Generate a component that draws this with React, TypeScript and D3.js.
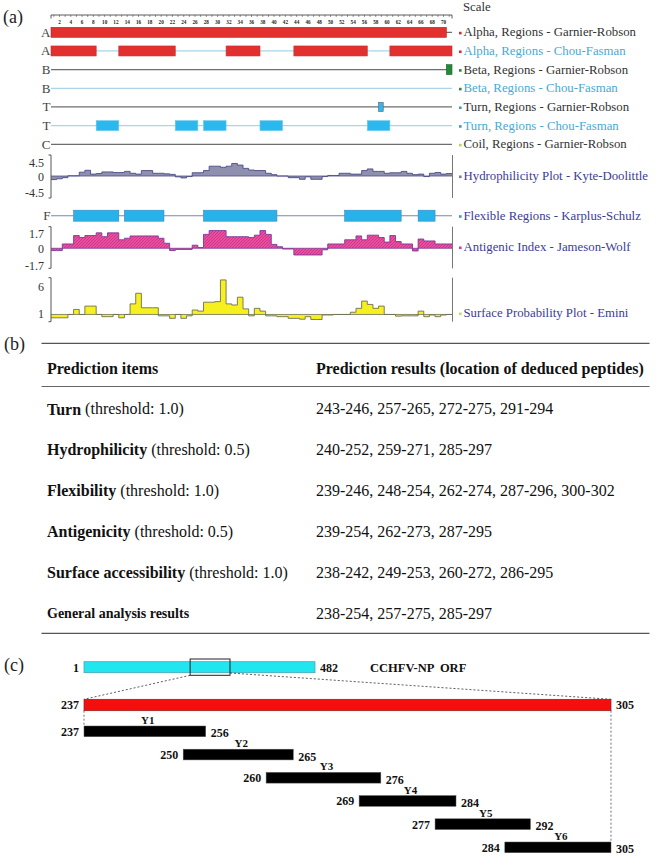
import React from 'react';
import * as d3 from 'd3';

const FONT = "'Liberation Serif','Times New Roman',serif";

// ---------- (a) data ----------
const scaleTicks = d3.range(1, 72);
const scaleLabels = d3.range(2, 71, 2);

const trackLetters = ['A', 'A', 'B', 'B', 'T', 'T', 'C'];
const trackNames = [
  'Alpha, Regions - Garnier-Robson',
  'Alpha, Regions - Chou-Fasman',
  'Beta, Regions - Garnier-Robson',
  'Beta, Regions - Chou-Fasman',
  'Turn, Regions - Garnier-Robson',
  'Turn, Regions - Chou-Fasman',
  'Coil, Regions - Garnier-Robson',
];
const alphaGR = [[1, 70]];
const alphaCF = [[1, 8], [13, 22], [32, 37], [44, 56], [61, 71]];
const betaGR = [[71, 71]];
const betaCF: number[][] = [];
const turnGR = [[59, 59]];
const turnCF = [[9, 12], [23, 26], [28, 31], [38, 41], [57, 60]];
const coilGR: number[][] = [];
const flexibleRegions = [[5, 12], [14, 20], [28, 40], [53, 62], [66, 68]];

const hydroValues = [
  -1.3, -1.0, -0.6, 0.1, 0.1, 1.4, 2.1, 0.7, 0.9, 1.5,
  1.5, 1.3, 1.3, 1.7, 1.0, 0.7, 2.0, 2.0, 1.0, 1.0,
  0.8, 0.6, -0.3, -0.7, -0.2, 1.2, 1.2, 2.0, 3.6, 3.6,
  3.2, 3.6, 4.6, 4.0, 2.8, 2.2, 2.0, 2.0, 1.0, 0.5,
  0.0, 0.0, -0.6, -0.6, -1.2, -0.3, -1.2, -1.2, -0.2, 0.2,
  0.2, 1.0, 1.0, 0.7, 0.7, 2.0, 2.6, 1.7, 1.7, 1.0,
  1.2, 1.2, 1.7, 1.0, 0.5, 0.7, -0.2, 1.0, 1.3, 0.7, 0.9,
];
const antigenicValues = [
  -0.3, -0.3, 0.56, 0.56, 1.65, 1.4, 1.65, 1.65, 2.0, 1.5,
  2.0, 2.0, 1.1, 1.3, 1.6, 1.6, 1.6, 1.6, 1.6, 1.3,
  0.65, -0.3, -0.15, -0.15, -0.15, 0.4, 0.1, 1.8, 2.3, 2.3,
  2.3, 1.5, 1.5, 1.5, 1.5, 1.4, 1.7, 2.3, 1.8, 0.5,
  0.2, -0.1, -0.1, -0.87, -0.87, -0.87, -0.87, -0.87, -0.2, 0.56,
  0.56, 0.56, 1.1, 1.1, 1.6, 1.1, 1.7, 1.7, 1.4, 0.8,
  1.65, 0.87, 0.56, 0.56, -0.35, 1.2, 0.95, 0.95, 0.56, 0.56, 0.56,
];
const surfaceValues = [
  0.4, 0.4, 0.4, 1.0, 1.9, 1.0, 2.5, 2.5, 1.0, 0.6,
  0.6, 1.0, 0.4, 1.0, 2.9, 4.8, 2.2, 2.2, 2.2, 0.75,
  0.75, 0.3, 1.0, 0.3, 0.75, 1.8, 1.6, 3.2, 3.2, 3.3,
  7.2, 2.9, 2.7, 4.1, 2.0, 0.75, 2.1, 1.6, 0.75, 0.75,
  0.6, 0.6, 0.3, 0.3, 0.15, 0.6, 0.1, 0.1, 0.9, 0.9,
  1.0, 1.0, 1.0, 1.4, 2.1, 3.4, 2.8, 2.1, 2.5, 1.0,
  1.0, 0.7, 0.75, 0.75, 0.75, 1.6, 0.6, 0.9, 0.6, 0.9, 1.0,
];
const hydroTicks = [4.5, 0, -4.5];
const antigenicTicks = [1.7, 0, -1.7];
const surfaceTicks = [6, 1];

// ---------- (b) data ----------
const tableHeaders = ['Prediction items', 'Prediction results (location of deduced peptides)'];
const itemNames = ['Turn', 'Hydrophilicity', 'Flexibility', 'Antigenicity', 'Surface accessibility'];
const itemThresholds = ['(threshold: 1.0)', '(threshold: 0.5)', '(threshold: 1.0)', '(threshold: 0.5)', '(threshold: 1.0)'];
const itemResults = [
  '243-246, 257-265, 272-275, 291-294',
  '240-252, 259-271, 285-297',
  '239-246, 248-254, 262-274, 287-296, 300-302',
  '239-254, 262-273, 287-295',
  '238-242, 249-253, 260-272, 286-295',
];
const generalLabel = 'General analysis results';
const generalResult = '238-254, 257-275, 285-297';

// ---------- (c) data ----------
const orfRange = [1, 482];
const orfName = 'CCHFV-NP  ORF';
const zoomBox = [222, 305]; // box as drawn on the ORF bar
const regionRange = [237, 305];
const peptideNames = ['Y1', 'Y2', 'Y3', 'Y4', 'Y5', 'Y6'];
const peptideStarts = [237, 250, 260, 269, 277, 284];
const peptideEnds = [256, 265, 276, 284, 292, 305];
// schematic placement of each peptide bar along the 237-305 bar
const peptideDrawnStart = [237, 249.8, 260.5, 272.5, 282.3, 291.3];
const peptideDrawnEnd = [252.7, 264.0, 275.3, 285.0, 294.6, 305];

function stepPts(vals: number[]) {
  const pts = vals.map((v, i) => ({ x: i + 0.5, v }));
  pts.push({ x: vals.length + 0.5, v: vals[vals.length - 1] });
  return pts;
}

export default function App() {
  const x = d3.scaleLinear().domain([0.5, 71.5]).range([51, 452]);
  const rowY = d3.scaleLinear().domain([0, 6]).range([32.3, 144.3]);
  const flexY = 215.7;
  const legendFont = 12.8;

  const trackRegions = [alphaGR, alphaCF, betaGR, betaCF, turnGR, turnCF, coilGR];
  const trackLine = ['#6e6e6e', '#a8d6e8', '#6e6e6e', '#a8d6e8', '#6e6e6e', '#a8d6e8', '#6e6e6e'];
  const trackFill = ['#e2302f', '#e2302f', '#23883a', '#2ab6ec', '#3ab4e8', '#2ab8ee', '#cccc44'];
  const trackStroke = ['#b02424', '#c23232', '#1c6a2c', '#2ab6ec', '#3a6a88', '#6ccaf0', '#999'];
  const trackText = ['#333', '#47a9d4', '#333', '#47a9d4', '#333', '#47a9d4', '#333'];
  const trackMarker = ['#d03030', '#d03030', '#2a8a3a', '#2a8a3a', '#3a9ad0', '#3a9ad0', '#c8d050'];

  const plots = [
    {
      vals: hydroValues, base: 0, y: d3.scaleLinear().domain([-8.05, 7.7]).range([198, 155]),
      ticks: hydroTicks, nudge: [-1, 0.5, 5], fill: '#8f8fb0', stroke: '#4c4c88',
      label: 'Hydrophilicity Plot - Kyte-Doolittle', marker: '#7a7aa0',
    },
    {
      vals: antigenicValues, base: 0, y: d3.scaleLinear().domain([-2.6, 2.8]).range([268.3, 226.7]),
      ticks: antigenicTicks, nudge: [-1, 0.5, 4.3], fill: '#e2489e', stroke: '#7a3a9a',
      label: 'Antigenic Index - Jameson-Wolf', marker: '#d04090',
    },
    {
      vals: surfaceValues, base: 1, y: d3.scaleLinear().domain([-0.3, 7.6]).range([321.7, 277.7]),
      ticks: surfaceTicks, nudge: [0, 0], fill: '#f6f01e', stroke: '#6f6f55',
      label: 'Surface Probability Plot - Emini', marker: '#d8d070',
    },
  ];
  const plotLabelY = [176, 247, 313];
  const legendColor = '#3c3c96';

  // (c) scales
  const orfX = d3.scaleLinear().domain(orfRange).range([84, 315]);
  const regX = d3.scaleLinear().domain(regionRange).range([84, 611]);
  const pepY = d3.scaleLinear().domain([0, 5]).range([726, 842]);
  const pepH = 10.7;

  // (b) layout
  const rowYs = d3.scaleLinear().domain([0, 5]).range([408.5, 613]);
  const colX = [47, 316];

  return (
    <svg width={664} height={868} style={{ position: 'absolute', left: 0, top: 0, background: '#fff' }}
      fontFamily={FONT}>
      <defs>
        <pattern id="hatch" width="3" height="3" patternUnits="userSpaceOnUse">
          <rect width="3" height="3" fill="#e8509f" />
          <path d="M0,3 L3,0" stroke="#c8287e" strokeWidth="0.7" />
        </pattern>
      </defs>
      <rect width={664} height={868} fill="#fff" />

      {/* ---------------- (a) ---------------- */}
      <text x={3} y={23} fontSize={18} fill="#222">(a)</text>
      <text x={463} y={11} fontSize={legendFont} fill="#333">Scale</text>
      {/* scale axis */}
      <line x1={x(0.5)} x2={x(71.5)} y1={15} y2={15} stroke="#333" strokeWidth={0.8} />
      <line x1={x(0.5)} x2={x(0.5)} y1={15} y2={18.5} stroke="#333" strokeWidth={0.8} />
      <line x1={x(71.5)} x2={x(71.5)} y1={15} y2={18.5} stroke="#333" strokeWidth={0.8} />
      {scaleTicks.map(t => (
        <line key={t} x1={x(t)} x2={x(t)} y1={15} y2={17} stroke="#333" strokeWidth={0.5} />
      ))}
      {scaleLabels.map(t => (
        <text key={t} x={x(t)} y={23.5} fontSize={5.2} fontWeight="bold" textAnchor="middle" fill="#222">{t}</text>
      ))}

      {/* tracks */}
      {trackRegions.map((regs, k) => {
        const cy = rowY(k);
        const h = k === 4 ? 9 : 10;
        return (
          <g key={k}>
            <line x1={x(0.5)} x2={x(71.5)} y1={cy} y2={cy} stroke={trackLine[k]} strokeWidth={1.3} />
            {regs.map((r, j) => (
              <rect key={j} x={x(r[0] - 0.5)} y={cy - h / 2} width={x(r[1] + 0.5) - x(r[0] - 0.5) - (k === 4 ? 1 : 0)}
                height={h} fill={trackFill[k]} stroke={trackStroke[k]} strokeWidth={0.6} />
            ))}
            <text x={50.5} y={cy} fontSize={13} textAnchor="end" dominantBaseline="central" fill="#444">{trackLetters[k]}</text>
            <rect x={459} y={cy - 0.5} width={2.6} height={2.6} fill={trackMarker[k]} />
            <text x={463.5} y={cy} fontSize={legendFont} dominantBaseline="central" fill={trackText[k]}>{trackNames[k]}</text>
          </g>
        );
      })}

      {/* flexible regions */}
      <line x1={x(0.5)} x2={x(71.5)} y1={flexY} y2={flexY} stroke="#7c86aa" strokeWidth={1.1} />
      {flexibleRegions.map((r, j) => (
        <rect key={j} x={x(r[0] - 0.5)} y={flexY - 5.5} width={x(r[1] + 0.5) - x(r[0] - 0.5)} height={11}
          fill="#27b3ea" stroke="#3a88c0" strokeWidth={0.6} />
      ))}
      <text x={50.5} y={flexY} fontSize={13} textAnchor="end" dominantBaseline="central" fill="#444">F</text>
      <rect x={459} y={flexY - 0.5} width={2.6} height={2.6} fill="#3a9ad8" />
      <text x={463.5} y={flexY} fontSize={legendFont} dominantBaseline="central" fill={legendColor}>Flexible Regions - Karplus-Schulz</text>

      {/* plots */}
      {plots.map((p, k) => {
        const pts = stepPts(p.vals);
        const area = d3.area<{ x: number; v: number }>()
          .x(d => x(d.x)).y0(p.y(p.base)).y1(d => p.y(d.v)).curve(d3.curveStepAfter);
        const line = d3.line<{ x: number; v: number }>()
          .x(d => x(d.x)).y(d => p.y(d.v)).curve(d3.curveStepAfter);
        const [d0, d1] = p.y.domain();
        const top = p.y(d1), bot = p.y(d0);
        return (
          <g key={k}>
            <path d={area(pts) || ''} fill={k === 1 ? 'url(#hatch)' : p.fill} />
            <line x1={x(0.5)} x2={x(71.5)} y1={p.y(p.base)} y2={p.y(p.base)} stroke={p.stroke} strokeWidth={0.8} />
            <path d={line(pts) || ''} fill="none" stroke={p.stroke} strokeWidth={0.9} />
            <path d={`M48.5,${top}H${x(0.5)}V${bot}H48.5`} fill="none" stroke="#555" strokeWidth={1} />
            <line x1={452.5} x2={452.5} y1={top} y2={bot} stroke="#777" strokeWidth={1} />
            {p.ticks.map((t, j) => (
              <text key={j} x={44} y={p.y(t) + p.nudge[j]} fontSize={12} textAnchor="end" dominantBaseline="central" fill="#333">{t}</text>
            ))}
            <rect x={459} y={plotLabelY[k] - 0.5} width={2.6} height={2.6} fill={p.marker} />
            <text x={463.5} y={plotLabelY[k]} fontSize={legendFont} dominantBaseline="central" fill={legendColor}>{p.label}</text>
          </g>
        );
      })}

      {/* ---------------- (b) ---------------- */}
      <text x={4} y={344} fontSize={18} fill="#222" dominantBaseline="central">(b)</text>
      <line x1={41.5} x2={649.5} y1={343.3} y2={343.3} stroke="#555" strokeWidth={1.3} />
      <line x1={41.5} x2={649.5} y1={386.5} y2={386.5} stroke="#666" strokeWidth={1.1} />
      <line x1={41.5} x2={649.5} y1={633.3} y2={633.3} stroke="#555" strokeWidth={1.3} />
      <text x={colX[0]} y={368} fontSize={16} fontWeight="bold" dominantBaseline="central" fill="#111">{tableHeaders[0]}</text>
      <text x={colX[1]} y={368} fontSize={16} fontWeight="bold" dominantBaseline="central" fill="#111">{tableHeaders[1]}</text>
      {itemNames.map((n, i) => (
        <g key={n}>
          <text x={colX[0]} y={rowYs(i)} fontSize={16} dominantBaseline="central" fill="#111">
            <tspan fontWeight="bold">{n}</tspan> {itemThresholds[i]}
          </text>
          <text x={colX[1]} y={rowYs(i)} fontSize={16} dominantBaseline="central" fill="#111">{itemResults[i]}</text>
        </g>
      ))}
      <text x={colX[0]} y={rowYs(5)} fontSize={14} fontWeight="bold" dominantBaseline="central" fill="#111">{generalLabel}</text>
      <text x={colX[1]} y={rowYs(5)} fontSize={16} dominantBaseline="central" fill="#111">{generalResult}</text>

      {/* ---------------- (c) ---------------- */}
      <text x={4} y={665} fontSize={18} fill="#222" dominantBaseline="central">(c)</text>
      <rect x={orfX(orfRange[0])} y={661.7} width={orfX(orfRange[1]) - orfX(orfRange[0])} height={11}
        fill="#22e6ef" stroke="#4a9aa8" strokeWidth={0.7} />
      <rect x={orfX(zoomBox[0])} y={659} width={orfX(zoomBox[1]) - orfX(zoomBox[0])} height={16.3}
        fill="none" stroke="#222" strokeWidth={1} />
      <text x={orfX(orfRange[0]) - 5} y={667.5} fontSize={12} fontWeight="bold" textAnchor="end" dominantBaseline="central" fill="#111">{orfRange[0]}</text>
      <text x={orfX(orfRange[1]) + 5} y={667.5} fontSize={12} fontWeight="bold" dominantBaseline="central" fill="#111">{orfRange[1]}</text>
      <text x={370} y={667.5} fontSize={12.5} fontWeight="bold" dominantBaseline="central" fill="#111" style={{ whiteSpace: 'pre' }}>{orfName}</text>

      <line x1={orfX(zoomBox[0])} y1={675.3} x2={regX(regionRange[0])} y2={699.3} stroke="#333" strokeWidth={0.8} strokeDasharray="2,2" />
      <line x1={orfX(zoomBox[1])} y1={673} x2={regX(regionRange[1])} y2={699.3} stroke="#333" strokeWidth={0.8} strokeDasharray="2,2" />

      <rect x={regX(regionRange[0])} y={699.3} width={regX(regionRange[1]) - regX(regionRange[0])} height={11.4}
        fill="#f50e0e" stroke="#8a2020" strokeWidth={0.7} />
      <text x={regX(regionRange[0]) - 5} y={705} fontSize={12} fontWeight="bold" textAnchor="end" dominantBaseline="central" fill="#111">{regionRange[0]}</text>
      <text x={regX(regionRange[1]) + 5} y={705} fontSize={12} fontWeight="bold" dominantBaseline="central" fill="#111">{regionRange[1]}</text>

      <line x1={regX(regionRange[0])} x2={regX(regionRange[0])} y1={710.7} y2={pepY(0)} stroke="#333" strokeWidth={0.7} strokeDasharray="2,2" />
      <line x1={regX(regionRange[1])} x2={regX(regionRange[1])} y1={710.7} y2={pepY(5)} stroke="#333" strokeWidth={0.7} strokeDasharray="2,2" />

      {peptideNames.map((n, i) => {
        const x0 = regX(peptideDrawnStart[i]);
        const x1 = regX(peptideDrawnEnd[i]);
        const ty = pepY(i);
        return (
          <g key={n}>
            <rect x={x0} y={ty} width={x1 - x0} height={pepH} fill="#000" stroke="#555" strokeWidth={0.5} />
            <text x={(x0 + x1) / 2 + 3} y={ty - 6} fontSize={11} fontWeight="bold" textAnchor="middle" dominantBaseline="central" fill="#111">{n}</text>
            <text x={x0 - 5} y={ty + pepH / 2 + 0.5} fontSize={12} fontWeight="bold" textAnchor="end" dominantBaseline="central" fill="#111">{peptideStarts[i]}</text>
            <text x={x1 + 5} y={ty + pepH / 2 + 2} fontSize={12} fontWeight="bold" dominantBaseline="central" fill="#111">{peptideEnds[i]}</text>
          </g>
        );
      })}
    </svg>
  );
}
